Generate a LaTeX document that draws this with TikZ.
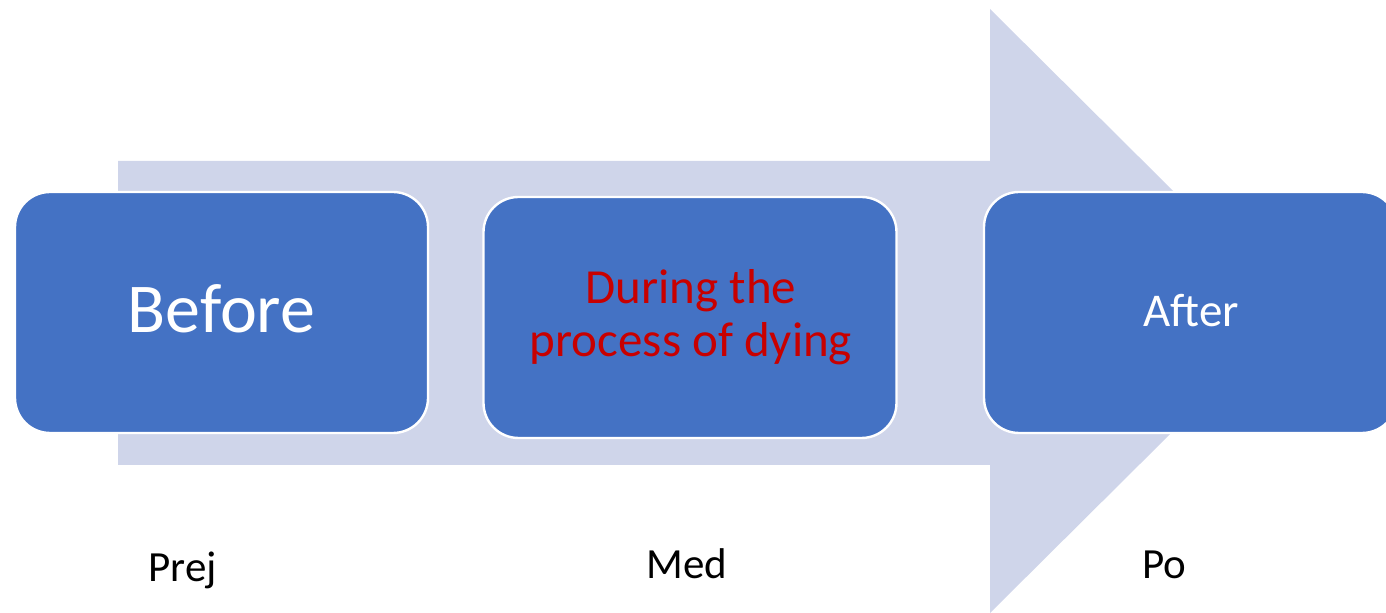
\documentclass[tikz,border=0pt]{standalone}
\usepackage{fontspec}
\setmainfont{Carlito}
\definecolor{boxblue}{RGB}{68,114,196}
\definecolor{arrowlav}{RGB}{207,213,234}
\definecolor{textred}{RGB}{200,0,0}
\tikzset{
  stagebox/.style={draw=white, line width=1.2pt, fill=boxblue, rounded corners=17.5pt,
    minimum width=206.5pt, minimum height=120.5pt, inner sep=0pt},
  boxtext/.style={anchor=base, inner sep=0pt, text=white},
  undertext/.style={anchor=base, inner sep=0pt, text=black, font=\fontsize{21.5}{26}\selectfont}
}
\begin{document}
\begin{tikzpicture}[x=0.5pt, y=-0.5pt]
\useasboundingbox (0,0) rectangle (1386,613);
% big background arrow
\fill[arrowlav] (118,161) -- (990,161) -- (990,9) -- (1294,311) -- (990,613)
  -- (990,465) -- (118,465) -- cycle;
% stage boxes
\node[stagebox] (before) at (221.5,312.5) {};
\node[stagebox] (during) at (690,317.5) {};
\node[stagebox] (after) at (1190.5,312.5) {};
% box texts
\node[boxtext, font=\fontsize{35}{42}\selectfont] (beforeT) at (221.5,333) {Before};
\node[boxtext, text=textred, align=center, font=\fontsize{24.5}{26.5}\selectfont] (duringT) at (691,357) {During the\\process of dying};
\node[boxtext, font=\fontsize{23.5}{28}\selectfont] (afterT) at (1191,327) {After};
% labels below
\node[undertext] (prej) at (182.5,582) {Prej};
\node[undertext] (med) at (687,579) {Med};
\node[undertext] (po) at (1164,579) {Po};
\end{tikzpicture}
\end{document}
